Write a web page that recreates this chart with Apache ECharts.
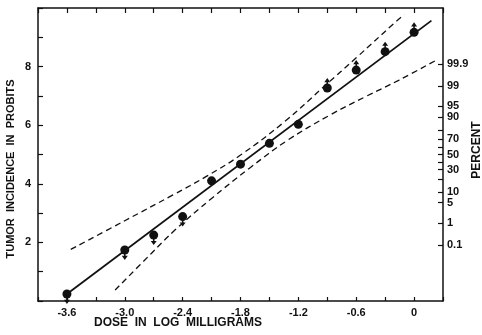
<!DOCTYPE html>
<html>
<head>
<meta charset="utf-8">
<script src="https://cdn.jsdelivr.net/npm/echarts@6/dist/echarts.min.js"></script>
<style>
html,body{margin:0;padding:0;background:#fff;}
#chart{width:482px;height:335px;}
</style>
</head>
<body>
<div id="chart"></div>
<script>
// ---- data ----
const doseX   = [-3.6, -3.0, -2.7, -2.4, -2.1, -1.8, -1.5, -1.2, -0.9, -0.6, -0.3, 0];
const probitY = [0.24, 1.74, 2.25, 2.88, 4.10, 4.67, 5.38, 6.03, 7.27, 7.88, 8.51, 9.17];
const arrowDir = ['down','down','down','down','','','','','up','up','up','up'];

const fitX = [-3.6, 0.18];
const fitY = [0.24, 9.57];

const upperX = [-3.56, -3.0, -2.5, -2.15, -1.8, -1.35, -0.93, -0.6, -0.2, -0.1];
const upperY = [1.76, 2.74, 3.62, 4.26, 4.98, 6.1, 7.33, 8.3, 9.5, 9.78];

const lowerX = [-3.10, -2.72, -2.48, -2.1, -1.7, -1.31, -0.87, -0.5, -0.155, 0.247];
const lowerY = [0.375, 1.64, 2.42, 3.5, 4.55, 5.49, 6.35, 6.98, 7.54, 8.25];

const xTickLabels = ['-3.6', '-3.0', '-2.4', '-1.8', '-1.2', '-0.6', '0'];
const yTickLabels = ['2', '4', '6', '8'];
const percentLabels       = ['0.1', '1', '5', '10', '30', '50', '70', '90', '95', '99', '99.9'];
const percentLabelProbits = [1.91, 2.67, 3.36, 3.72, 4.48, 5.0, 5.52, 6.28, 6.64, 7.33, 8.09];
const percentTickProbits  = [1.91, 2.67, 3.36, 3.72, 4.16, 4.48, 4.75, 5.0, 5.25, 5.52, 5.84, 6.28, 6.64, 7.33, 8.09];

// ---- chart ----
const FONT = '"Liberation Sans", Arial, sans-serif';
const BLACK = '#111';
const zip = (a, b) => a.map((v, i) => [v, b[i]]);
const arrowPath = 'path://M4,0 L8,5 L5,5 L5,12 L3,12 L3,5 L0,5 Z';

const axisLine = { show: true, onZero: false, lineStyle: { color: BLACK, width: 1.5 } };
const tickStyle = { color: BLACK, width: 1.2 };
const labelStyle = { color: BLACK, fontFamily: FONT, fontWeight: 'bold', fontSize: 11 };

function findLabel(list, v) {
  const s = list.find(l => Math.abs(Number(l) - v) < 1e-6);
  return s === undefined ? '' : s;
}

const chart = echarts.init(document.getElementById('chart'), null, { renderer: 'canvas' });
chart.setOption({
  animation: false,
  backgroundColor: '#fff',
  grid: { left: 38, right: 39, top: 8, bottom: 34, containLabel: false },
  xAxis: [
    {
      type: 'value', position: 'bottom', min: -3.9, max: 0.3, interval: 0.3,
      axisLine: axisLine,
      axisTick: { inside: true, length: 4, lineStyle: tickStyle },
      axisLabel: Object.assign({ margin: 6, formatter: v => findLabel(xTickLabels, v) }, labelStyle),
      splitLine: { show: false }
    },
    {
      type: 'value', position: 'top', min: -3.9, max: 0.3, interval: 0.3,
      axisLine: axisLine,
      axisTick: { inside: true, length: 5, lineStyle: tickStyle },
      axisLabel: { show: false },
      splitLine: { show: false }
    }
  ],
  yAxis: [
    {
      type: 'value', position: 'left', min: 0, max: 10, interval: 1,
      axisLine: axisLine,
      axisTick: { inside: true, length: 5, lineStyle: tickStyle },
      axisLabel: Object.assign({ margin: 7, formatter: v => findLabel(yTickLabels, v) }, labelStyle),
      splitLine: { show: false }
    },
    {
      type: 'value', position: 'right', min: 0, max: 10,
      axisLine: axisLine,
      axisTick: { inside: true, length: 5, lineStyle: tickStyle, customValues: percentTickProbits },
      axisLabel: Object.assign({
        margin: 4,
        customValues: percentLabelProbits,
        formatter: v => {
          let best = 0, d = 1e9;
          percentLabelProbits.forEach((p, i) => { if (Math.abs(p - v) < d) { d = Math.abs(p - v); best = i; } });
          return percentLabels[best];
        }
      }, labelStyle),
      splitLine: { show: false }
    }
  ],
  series: [
    {
      type: 'line', data: zip(fitX, fitY), symbol: 'none',
      lineStyle: { color: BLACK, width: 1.8 }, z: 3
    },
    {
      type: 'line', data: zip(upperX, upperY), symbol: 'none', smooth: 0.4,
      lineStyle: { color: BLACK, width: 1.3, type: [6, 4] }, z: 2
    },
    {
      type: 'line', data: zip(lowerX, lowerY), symbol: 'none', smooth: 0.4,
      lineStyle: { color: BLACK, width: 1.3, type: [6, 4] }, z: 2
    },
    {
      type: 'scatter', data: zip(doseX, probitY), symbol: 'circle', symbolSize: 9,
      itemStyle: { color: BLACK, opacity: 1 }, z: 4
    },
    {
      type: 'scatter',
      data: zip(doseX, probitY).filter((p, i) => arrowDir[i] === 'up'),
      symbol: arrowPath, symbolSize: [6, 10], symbolKeepAspect: false, symbolOffset: [0, -5],
      itemStyle: { color: BLACK, opacity: 1 }, z: 5
    },
    {
      type: 'scatter',
      data: zip(doseX, probitY).filter((p, i) => arrowDir[i] === 'down'),
      symbol: arrowPath, symbolSize: [6, 10], symbolKeepAspect: false, symbolOffset: [0, 5], symbolRotate: 180,
      itemStyle: { color: BLACK, opacity: 1 }, z: 5
    }
  ],
  graphic: [
    {
      type: 'text', x: 11, y: 169, rotation: Math.PI / 2,
      style: { text: 'TUMOR  INCIDENCE  IN  PROBITS', fill: BLACK, font: 'bold 11px ' + FONT, textAlign: 'center', textVerticalAlign: 'middle' }
    },
    {
      type: 'text', x: 178, y: 323,
      style: { text: 'DOSE  IN  LOG  MILLIGRAMS', fill: BLACK, font: 'bold 12px ' + FONT, textAlign: 'center', textVerticalAlign: 'middle' }
    },
    {
      type: 'text', x: 477, y: 150, rotation: Math.PI / 2,
      style: { text: 'PERCENT', fill: BLACK, font: 'bold 12px ' + FONT, textAlign: 'center', textVerticalAlign: 'middle' }
    }
  ]
});
</script>
</body>
</html>
